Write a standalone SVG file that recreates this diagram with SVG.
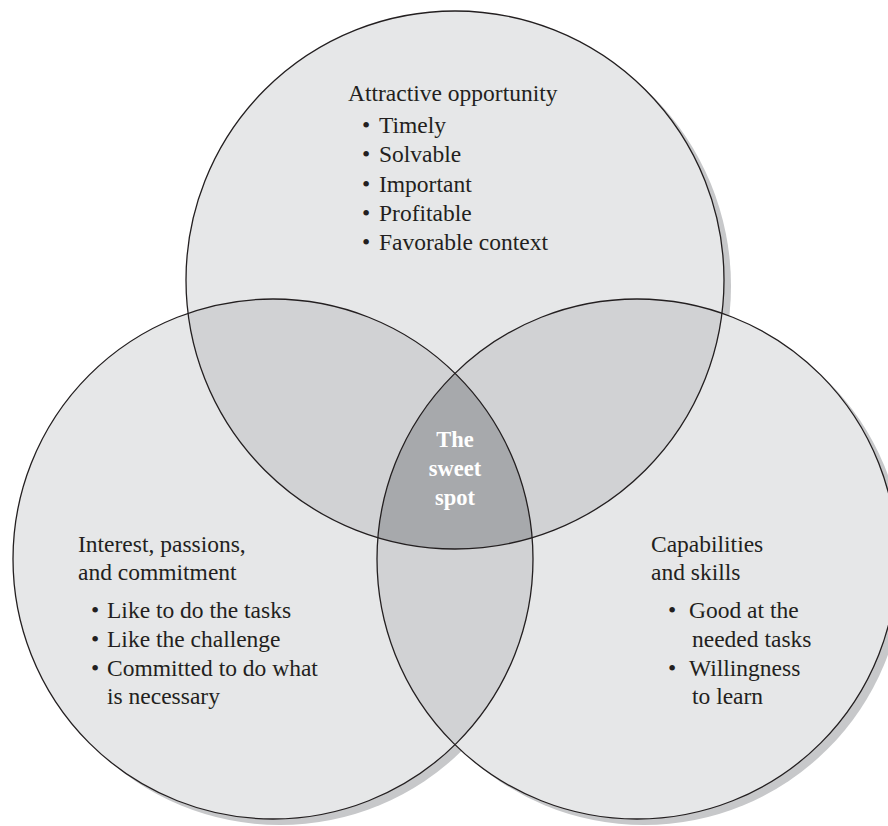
<svg xmlns="http://www.w3.org/2000/svg" width="888" height="826" viewBox="0 0 888 826">
<style>
.t{font-family:"Liberation Serif","Times New Roman",serif;font-size:23.5px;fill:#231f20}
.s{font-family:"Liberation Serif","Times New Roman",serif;font-size:22.5px;font-weight:bold;fill:#ffffff;text-anchor:middle}
.sh{fill:#c7c8ca}
.one{fill:#e6e7e8}
.two{fill:#d1d2d4}
.three{fill:#a7a9ac}
.edge{fill:none;stroke:#231f20;stroke-width:1.3}
</style>
<defs>
<circle id="cT" cx="455" cy="280" r="269"/>
<circle id="cL" cx="273" cy="559" r="260"/>
<circle id="cR" cx="637" cy="559" r="260"/>
<clipPath id="kT"><use href="#cT"/></clipPath>
<clipPath id="kL"><use href="#cL"/></clipPath>
<clipPath id="kR"><use href="#cR"/></clipPath>
</defs>
<rect width="888" height="826" fill="#ffffff"/>
<g id="shadows">
<use href="#cT" class="sh" transform="translate(7,6)"/>
<use href="#cL" class="sh" transform="translate(7,6)"/>
<use href="#cR" class="sh" transform="translate(7,6)"/>
</g>
<g id="fills">
<use href="#cT" class="one"/>
<use href="#cL" class="one"/>
<use href="#cR" class="one"/>
<use href="#cL" class="two" clip-path="url(#kT)"/>
<use href="#cR" class="two" clip-path="url(#kT)"/>
<use href="#cR" class="two" clip-path="url(#kL)"/>
<g clip-path="url(#kL)"><use href="#cR" class="three" clip-path="url(#kT)"/></g>
</g>
<g id="opportunity">
<use href="#cT" class="edge"/>
<text class="t" x="348" y="101">Attractive opportunity</text>
<text class="t" x="362" y="133">•</text><text class="t" x="379" y="133">Timely</text>
<text class="t" x="362" y="162">•</text><text class="t" x="379" y="162">Solvable</text>
<text class="t" x="362" y="192">•</text><text class="t" x="379" y="192">Important</text>
<text class="t" x="362" y="221">•</text><text class="t" x="379" y="221">Profitable</text>
<text class="t" x="362" y="250">•</text><text class="t" x="379" y="250">Favorable context</text>
</g>
<g id="interest">
<use href="#cL" class="edge"/>
<text class="t" x="78" y="552">Interest, passions,</text>
<text class="t" x="78" y="580">and commitment</text>
<text class="t" x="91" y="618">•</text><text class="t" x="107" y="618">Like to do the tasks</text>
<text class="t" x="91" y="647">•</text><text class="t" x="107" y="647">Like the challenge</text>
<text class="t" x="91" y="676">•</text><text class="t" x="107" y="676">Committed to do what</text>
<text class="t" x="107" y="704">is necessary</text>
</g>
<g id="capabilities">
<use href="#cR" class="edge"/>
<text class="t" x="651" y="552">Capabilities</text>
<text class="t" x="651" y="580">and skills</text>
<text class="t" x="668" y="618">•</text><text class="t" x="689" y="618">Good at the</text>
<text class="t" x="692" y="647">needed tasks</text>
<text class="t" x="668" y="676">•</text><text class="t" x="689" y="676">Willingness</text>
<text class="t" x="692" y="704">to learn</text>
</g>
<g id="sweetspot">
<text class="s" x="455" y="447">The</text>
<text class="s" x="455" y="476">sweet</text>
<text class="s" x="455" y="505">spot</text>
</g>
<g id="connectors"></g>
</svg>
